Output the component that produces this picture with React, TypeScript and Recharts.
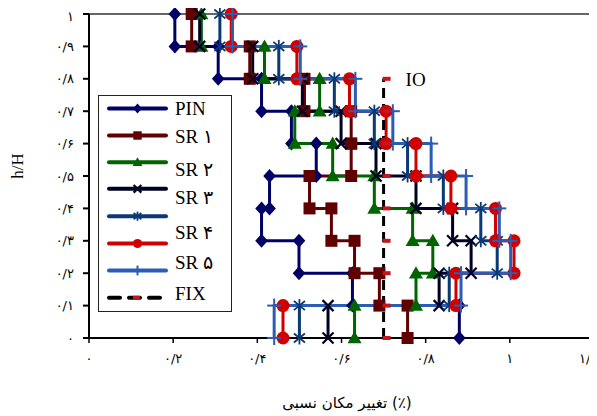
import React from 'react';
import { LineChart, Line, XAxis, YAxis, ReferenceLine, ReferenceDot, Legend } from 'recharts';

// storey levels h/H, bottom to top
const levels = [0, 0.1, 0.2, 0.3, 0.4, 0.5, 0.6, 0.7, 0.8, 0.9, 1];

// drift of each storey (storey 1 at the bottom ... storey 10 at the top)
const pinDrift = [0.88, 0.626, 0.499, 0.41, 0.429, 0.54, 0.481, 0.41, 0.307, 0.204];
const sr1Drift = [0.757, 0.69, 0.631, 0.576, 0.524, 0.623, 0.623, 0.512, 0.382, 0.244];
const sr2Drift = [0.631, 0.777, 0.817, 0.769, 0.678, 0.579, 0.489, 0.548, 0.417, 0.267];
const sr3Drift = [0.568, 0.832, 0.908, 0.864, 0.777, 0.682, 0.599, 0.507, 0.389, 0.263];
const sr4Drift = [0.5, 0.856, 0.97, 0.931, 0.842, 0.757, 0.678, 0.583, 0.451, 0.311];
const sr5Drift = [0.461, 0.872, 1.01, 0.966, 0.86, 0.777, 0.706, 0.619, 0.494, 0.338];
const sr6Drift = [0.44, 0.884, 1.002, 0.975, 0.896, 0.813, 0.722, 0.633, 0.502, 0.341];

// fixed-base limit line (IO)
const fixDrift = 0.7;
const fixLevels = [0, 0.1, 0.2, 0.3, 0.4, 0.5, 0.6, 0.7, 0.8];

const xTicks = [0, 0.2, 0.4, 0.6, 0.8, 1, 1.2];
const xTickLabels = ['۰', '۰/۲', '۰/۴', '۰/۶', '۰/۸', '۱', '۱/۲'];
const yTicks = levels;
const yTickLabels = ['۰', '۰/۱', '۰/۲', '۰/۳', '۰/۴', '۰/۵', '۰/۶', '۰/۷', '۰/۸', '۰/۹', '۱'];

const legendLabels = ['PIN', 'SR ۱', 'SR ۲', 'SR ۳', 'SR ۴', 'SR ۵', 'FIX'];

const SERIF = '"Liberation Serif", "DejaVu Sans", serif';
const FA = '"DejaVu Sans", sans-serif';

// step profile: each storey drawn as a vertical segment between its floor and roof
const toProfile = (drift: number[]) =>
  drift.flatMap((d, i) => [
    { x: d, y: levels[i] },
    { x: d, y: levels[i + 1] },
  ]).reverse();

type Kind = 'diamond' | 'square' | 'triangle' | 'x' | 'asterisk' | 'circle' | 'plus' | 'dash';

const Marker = ({ kind, cx, cy, color, s }: { kind: Kind; cx: number; cy: number; color: string; s: number }) => {
  switch (kind) {
    case 'diamond':
      return <polygon points={`${cx},${cy - s} ${cx + s * 0.9},${cy} ${cx},${cy + s} ${cx - s * 0.9},${cy}`} fill={color} />;
    case 'square':
      return <rect x={cx - s} y={cy - s} width={2 * s} height={2 * s} fill={color} />;
    case 'triangle':
      return <polygon points={`${cx},${cy - s} ${cx + s},${cy + s * 0.75} ${cx - s},${cy + s * 0.75}`} fill={color} />;
    case 'x':
      return (
        <g stroke={color} strokeWidth={2.2}>
          <line x1={cx - s} y1={cy - s} x2={cx + s} y2={cy + s} />
          <line x1={cx - s} y1={cy + s} x2={cx + s} y2={cy - s} />
        </g>
      );
    case 'asterisk':
      return (
        <g stroke={color} strokeWidth={1.8}>
          <line x1={cx - s * 0.85} y1={cy - s * 0.7} x2={cx + s * 0.85} y2={cy + s * 0.7} />
          <line x1={cx - s * 0.85} y1={cy + s * 0.7} x2={cx + s * 0.85} y2={cy - s * 0.7} />
          <line x1={cx} y1={cy - s} x2={cx} y2={cy + s} />
        </g>
      );
    case 'circle':
      return <circle cx={cx} cy={cy} r={s} fill={color} />;
    case 'plus':
      return (
        <g stroke={color} strokeWidth={2}>
          <line x1={cx - s} y1={cy} x2={cx + s} y2={cy} />
          <line x1={cx} y1={cy - s} x2={cx} y2={cy + s} />
        </g>
      );
    case 'dash':
      return <rect x={cx - 1} y={cy - 2} width={s} height={4} fill="#c4161c" />;
    default:
      return null;
  }
};

const series = [
  { key: 'pin', drift: pinDrift, color: '#000066', kind: 'diamond' as Kind, size: 7 },
  { key: 'sr1', drift: sr1Drift, color: '#600000', kind: 'square' as Kind, size: 6 },
  { key: 'sr2', drift: sr2Drift, color: '#006400', kind: 'triangle' as Kind, size: 7 },
  { key: 'sr3', drift: sr3Drift, color: '#000022', kind: 'x' as Kind, size: 5.5 },
  { key: 'sr4', drift: sr4Drift, color: '#0a3a75', kind: 'asterisk' as Kind, size: 6.5 },
  { key: 'sr5', drift: sr5Drift, color: '#d00000', kind: 'circle' as Kind, size: 6.5 },
  { key: 'sr6', drift: sr6Drift, color: '#2b5db5', kind: 'plus' as Kind, size: 7 },
];

const fixData = fixLevels.map((y) => ({ x: fixDrift, y }));

const dotFor = (key: string, kind: Kind, color: string, s: number) => (p: any) => (
  <Marker key={`${key}-${p.index}`} kind={kind} cx={p.cx} cy={p.cy} color={color} s={s} />
);

// legend rows (lines) and labels sit at slightly different heights, as in the source figure
const legendRowY = [14, 41, 67.7, 94.3, 121.7, 149, 176, 203.3];
const legendLabelY = [14, 41.7, 75, 103.3, 138.3, 168.3, 199];

const LegendBox = () => {
  const rows = [...series.map((s) => ({ color: s.color, kind: s.kind, size: s.size * 0.7 })), null];
  return (
    <div style={{ width: 134, height: 217, border: '1.5px solid #222', boxSizing: 'border-box', background: '#fff' }}>
      <svg width={131} height={214} style={{ display: 'block' }}>
        {rows.map((r, i) => {
          const y = legendRowY[i] - 1.5;
          if (!r) {
            return (
              <g key="fix">
                <line x1={10} y1={y} x2={67} y2={y} stroke="#000" strokeWidth={4} strokeDasharray="11 9" strokeLinecap="round" />
                <rect x={34} y={y - 2} width={7} height={4} fill="#c4161c" />
              </g>
            );
          }
          return (
            <g key={i}>
              <line x1={10} y1={y} x2={67} y2={y} stroke={r.color} strokeWidth={4} strokeLinecap="round" />
              <Marker kind={r.kind} cx={38.5} cy={y} color={r.color} s={r.size} />
            </g>
          );
        })}
        {legendLabels.map((t, i) => (
          <text key={t} x={76} y={legendLabelY[i] - 1.5} dominantBaseline="central" fontFamily={SERIF} fontSize={19} fill="#000">
            {t}
          </text>
        ))}
      </svg>
    </div>
  );
};

export default function App() {
  return (
    <div style={{ width: 589, height: 408, background: '#fff' }}>
      <LineChart width={589} height={408} margin={{ top: 6, right: 3, bottom: 48, left: 41 }}>
        <XAxis
          type="number"
          dataKey="x"
          domain={[0, 1.2]}
          ticks={xTicks}
          tickFormatter={(_v: number, i: number) => xTickLabels[i]}
          tick={{ fill: '#000', fontSize: 13, fontFamily: FA }}
          tickSize={5}
          tickMargin={11}
          stroke="#000"
          axisLine={{ stroke: '#000', strokeWidth: 2 }}
          tickLine={{ stroke: '#000', strokeWidth: 1.5 }}
          height={30}
          label={(p: any) => (
            <text x={339} y={395} textAnchor="middle" dominantBaseline="central" fontFamily={FA} fontSize={15} fill="#000">
              تغییر مکان نسبی (٪)
            </text>
          )}
        />
        <YAxis
          type="number"
          dataKey="y"
          domain={[0, 1]}
          ticks={yTicks}
          tickFormatter={(_v: number, i: number) => yTickLabels[i]}
          tick={{ fill: '#000', fontSize: 13, fontFamily: FA }}
          tickSize={6}
          tickMargin={9}
          width={40}
          stroke="#000"
          axisLine={{ stroke: '#000', strokeWidth: 2 }}
          tickLine={{ stroke: '#000', strokeWidth: 2 }}
          label={(p: any) => (
            <text x={9} y={158} transform="rotate(-90 9 158)" textAnchor="middle" dominantBaseline="central" fontFamily={SERIF} fontSize={17} fill="#000">
              h/H
            </text>
          )}
        />
        <ReferenceLine y={1} stroke="#333" strokeWidth={1.5} />
        <ReferenceLine x={1.2} stroke="#333" strokeWidth={1.5} />
        {series.map((s) => (
          <Line
            key={s.key}
            data={toProfile(s.drift)}
            dataKey="y"
            type="linear"
            stroke={s.color}
            strokeWidth={3}
            dot={dotFor(s.key, s.kind, s.color, s.size)}
            activeDot={false}
            legendType="none"
            isAnimationActive={false}
          />
        ))}
        <Line
          data={fixData}
          dataKey="y"
          type="linear"
          stroke="#000"
          strokeWidth={3}
          strokeDasharray="10 6"
          dot={dotFor('fix', 'dash', '#c4161c', 8)}
          activeDot={false}
          legendType="none"
          isAnimationActive={false}
        />
        <ReferenceDot
          x={fixDrift}
          y={0.8}
          r={0}
          fill="none"
          stroke="none"
          label={{ value: 'IO', position: 'right', offset: 22, fill: '#000', fontSize: 19, fontFamily: SERIF }}
        />
        <Legend
          layout="horizontal"
          verticalAlign="middle"
          align="center"
          content={() => <LegendBox />}
          wrapperStyle={{ left: 90, top: 87, width: 134, height: 217 }}
        />
      </LineChart>
    </div>
  );
}
